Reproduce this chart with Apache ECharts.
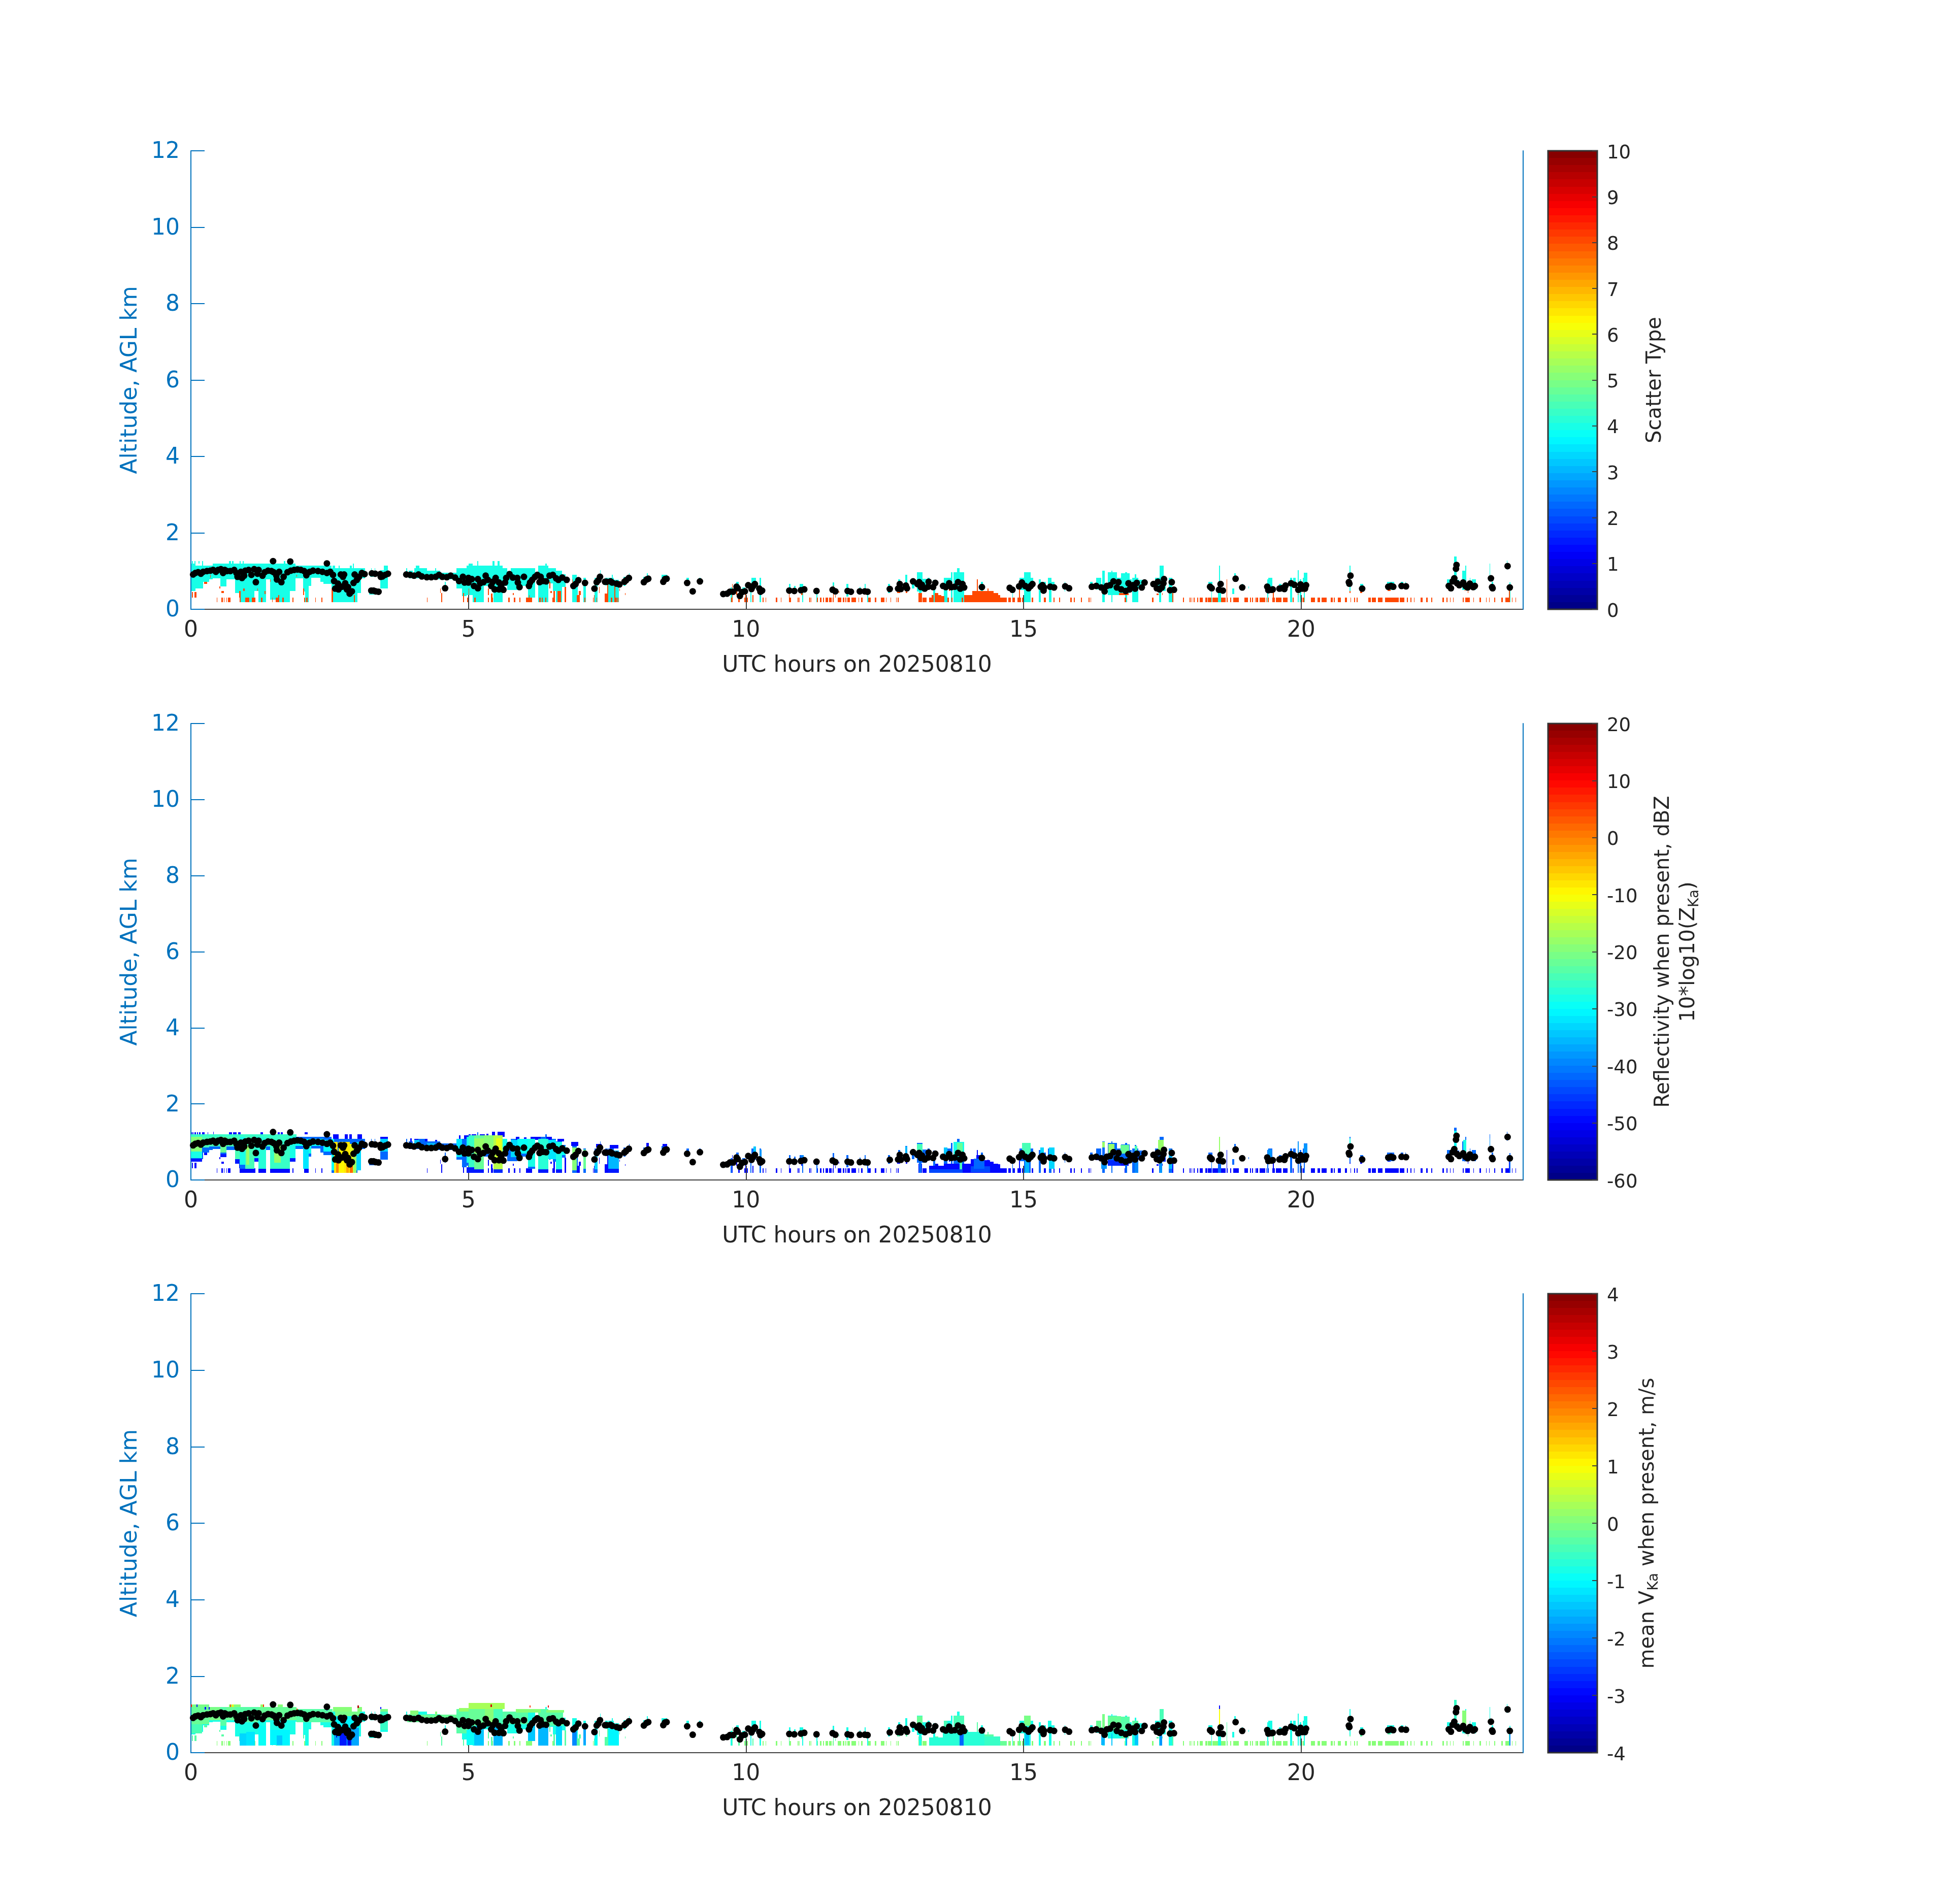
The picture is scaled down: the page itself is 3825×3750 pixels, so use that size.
<!DOCTYPE html>
<html>
<head>
<meta charset="utf-8">
<script src="https://cdn.jsdelivr.net/npm/echarts@6/dist/echarts.min.js"></script>
<style>
  html, body { margin: 0; background: #fff; }
  #chart { width: 3825px; height: 3750px; }
</style>
</head>
<body>
<div id="chart"></div>
<script>
const hourTicks = [0, 5, 10, 15, 20];
const altTicks = [0, 2, 4, 6, 8, 10, 12];

// radar returns: [hour start, hour end, km base, km top]
const cloudSpans = [
  [0,.08,.48,1.2],[.08,.22,.55,1.14],[.22,.33,.72,1.14],[.33,.39,.79,1.14],[.39,.53,.81,1.2],[.53,.64,.6,1.2],
  [.64,.8,.79,1.2],[.8,.88,.43,1.2],[.88,.98,.19,1.2],[.98,1.14,.19,1.2],[1.14,1.22,.48,1.2],[1.22,1.35,.19,1.2],
  [1.35,1.43,.79,1.2],[1.43,1.55,.25,1.2],[1.55,1.78,.19,1.2],[1.78,1.88,.48,1.2],[1.88,2.02,.81,1.14],
  [2.02,2.06,.46,1.14],[2.06,2.12,.19,1.14],[2.12,2.17,.61,1.14],[2.17,2.33,.83,1.14],[2.33,2.39,.72,1.14],
  [2.39,2.53,.66,1.14],[2.53,2.94,.19,1.08],[2.94,3,.19,1.08],[3,3.06,.43,1.08],[3.06,3.14,.81,1.08],
  [3.23,3.34,.85,.98],[3.25,3.26,.98,1.08],[3.31,3.32,.98,1.08],[3.21,3.37,.39,.54],[3.41,3.48,.54,1.02],[3.48,3.55,.54,1.14],
  [3.88,3.9,.95,1.08],[3.92,4,.81,1.01],[4.02,4.12,.81,1.08],[4.12,4.25,.81,1.08],[4.25,4.49,.79,1.01],
  [4.49,4.78,.79,.96],[4.57,4.59,.46,.72],[4.78,4.88,.54,1.08],[4.88,4.97,.34,1.08],[4.97,5.08,.37,1.14],
  [5.08,5.28,.19,1.14],[5.16,5.18,1.14,1.26],[5.28,5.45,.61,1.14],[5.45,5.62,.19,1.14],[5.62,5.7,.61,1.08],
  [5.7,5.76,.5,1],[5.76,5.88,.5,1.08],[5.88,6.07,.61,1.08],[6.07,6.2,.3,1.08],[6.26,6.44,.19,1.14],[6.38,6.41,1.14,1.2],
  [6.44,6.52,.68,1.08],[6.52,6.58,.48,1.08],[6.58,6.69,.19,1.01],[6.69,6.75,.59,.92],[6.87,6.95,.19,.9],
  [6.95,6.97,.37,.7],[7.07,7.12,.19,.83],[7.27,7.33,.19,.83],[7.37,7.38,.83,1.02],[7.46,7.51,.63,.83],
  [7.52,7.62,.19,.83],[7.62,7.71,.19,.77],[7.58,7.6,.83,.9],[7.79,7.83,.61,.85],[7.89,7.9,.81,.95],
  [8.15,8.26,.73,.85],[8.21,8.23,.85,.95],[8.48,8.58,.73,.9],[8.93,8.97,.63,.83],[9.03,9.05,.41,.52],[9.16,9.18,.68,.83],
  [9.72,9.75,.19,.57],[9.82,9.87,.48,.72],[9.93,9.99,.45,.57],[10.08,10.1,.19,.5],[10.1,10.18,.54,.83],
  [10.24,10.27,.19,.83],[10.77,10.8,.48,.66],[10.87,10.89,.5,.61],[10.97,11.03,.43,.66],[11.01,11.03,.19,.43],
  [11.24,11.3,.42,.53],[11.27,11.29,.19,.42],[11.56,11.59,.48,.71],[11.81,11.84,.33,.66],[12.05,12.06,.42,.59],
  [12.14,12.16,.38,.66],[12.18,12.2,.19,.38],
  [12.56,12.59,.43,.66],[12.74,12.78,.45,.79],[12.87,12.91,.48,.9],[12.99,13.03,.55,.79],[13.08,13.12,.46,.97],
  [13.12,13.16,.19,.97],[13.16,13.18,.46,.97],[13.18,13.25,.46,.8],[13.27,13.31,.52,.83],[13.37,13.41,.19,.77],
  [13.56,13.63,.19,.83],[13.63,13.69,.55,.83],[13.69,13.72,.19,.97],[13.74,13.93,.19,.97],[13.8,13.85,.97,1.08],
  [14.23,14.27,.3,.72],[14.75,14.76,.46,.62],[14.8,14.81,.19,.46],[14.93,15.01,.5,.83],[15.01,15.13,.19,.97],
  [15.13,15.17,.54,.83],[15.27,15.31,.19,.79],[15.31,15.4,.46,.72],[15.44,15.46,.52,.83],[15.46,15.5,.19,.83],
  [15.5,15.56,.52,.72],[15.74,15.75,.46,.72],[16.2,16.24,.54,.72],[16.31,16.4,.52,.83],[16.42,16.46,.19,1.01],
  [16.52,16.58,.37,.97],[16.58,16.6,.19,1.01],[16.6,16.68,.37,.97],[16.68,16.76,.37,.83],[16.76,16.83,.43,.94],
  [16.83,16.87,.19,.97],[16.87,16.91,.43,.94],[16.91,16.95,.54,.79],[16.96,17.07,.19,.83],[17,17.03,.83,.92],[17.07,17.17,.54,.77],
  [17.37,17.44,.48,.83],[17.44,17.48,.19,.83],[17.48,17.56,.48,.83],[17.45,17.52,.83,1.14],[17.62,17.68,.19,.83],
  [18.33,18.4,.5,.72],[18.38,18.39,.19,.5],[18.5,18.56,.19,.72],[18.52,18.54,.72,1.14],[18.76,18.8,.4,.55],[18.8,18.82,.8,.95],
  [18.93,18.95,.53,.66],[19.05,19.06,.55,.6],[19.39,19.41,.19,.79],[19.41,19.48,.43,.83],[19.6,19.65,.5,.66],
  [19.7,19.73,.5,.71],[19.8,19.84,.19,.83],[19.86,19.9,.59,.83],[19.94,19.96,.19,1.02],[19.98,20,.19,.79],
  [20.03,20.05,.52,.83],[20.05,20.07,.19,.96],[20.07,20.11,.52,.96],[20.82,20.87,.61,.77],[20.87,20.89,.46,1.14],
  [21.06,21.12,.59,.66],[21.55,21.68,.5,.72],[21.8,21.84,.54,.72],[21.88,21.89,.54,.72],[22.63,22.7,.54,.79],
  [22.76,22.8,.77,1.38],[22.8,22.85,.61,.77],[22.9,22.96,.5,1.01],[22.96,22.98,.5,1.14],[23.04,23.05,.66,.83],[23.08,23.15,.5,.79],
  [23.4,23.41,.72,1.2],[23.43,23.46,.5,.72],[23.71,23.72,1.03,1.27],[23.75,23.77,.19,.71]
];
const capSpeckle = [
  [.02,.04,1.2,1.26],[.06,.08,1.2,1.26],[.14,.16,1.2,1.26],[.2,.22,1.14,1.26],[.69,.72,1.2,1.26],[.74,.77,1.2,1.26],
  [.88,.9,1.2,1.26],[.93,.95,1.2,1.26],[1.67,1.7,1.2,1.26],[1.74,1.76,1.2,1.26],[2.55,2.6,1.08,1.14],[2.66,2.68,1.08,1.14],
  [2.86,2.9,1.08,1.14],[2.92,2.94,1.08,1.2],[4.05,4.12,1.08,1.14],[4.4,4.42,1.01,1.08],[5,5.08,1.14,1.2],
  [5.43,5.47,1.14,1.26],[5.52,5.56,1.14,1.26]
];
// thin returns in the lowest range gates, hour start and end
const lowBand = [
  [.47,.48],[.55,.58],[.59,.6],[.64,.65],[.67,.69],[.69,.71],[.88,.9],[.98,1.05],[1.1,1.16],[1.26,1.29],[1.46,1.47],
  [1.53,1.59],[1.65,1.67],[1.83,1.85],[2.04,2.06],[2.08,2.1],[2.24,2.25],[2.35,2.37],[4.25,4.26],[4.51,4.53],[4.9,4.92],
  [4.98,5],[5.1,5.13],[5.35,5.37],[5.41,5.44],[5.72,5.74],[5.82,5.84],[5.92,5.94],[6.04,6.15],[6.27,6.3],[6.32,6.34],
  [6.38,6.4],[6.51,6.56],[6.6,6.67],[6.73,6.75],[6.96,7.01],[7.09,7.11],[7.24,7.25],[7.31,7.32],[7.45,7.52],[7.56,7.59],
  [7.63,7.67],[7.68,7.7],[9.73,9.76],[9.86,9.89],[9.97,10.03],[10.3,10.32],[10.35,10.36],[10.54,10.56],[10.63,10.64],
  [10.77,10.81],[10.93,10.95],[10.96,10.97],[11.14,11.16],[11.17,11.18],[11.28,11.3],[11.33,11.36],[11.39,11.41],
  [11.43,11.48],[11.5,11.54],[11.56,11.58],[11.65,11.72],[11.74,11.77],[11.79,11.81],[11.83,11.87],[11.9,11.98],
  [12.03,12.04],[12.07,12.1],[12.2,12.25],[12.32,12.35],[12.43,12.49],[12.52,12.53],[12.6,12.61],[12.7,12.71],
  [12.73,12.75],[13.11,13.17],[13.18,13.25],[13.3,13.35],[13.4,13.57],[13.63,13.66],[13.7,13.72],[13.88,13.91],
  [13.93,14.7],[14.73,14.77],[14.8,14.84],[14.89,14.95],[14.97,14.99],[15.15,15.17],[15.37,15.4],[15.54,15.56],
  [15.64,15.66],[15.84,15.87],[15.91,15.92],[16.03,16.05],[16.17,16.19],[16.21,16.22],[16.82,16.85],[17.31,17.34],
  [17.87,17.89],[17.99,18.01],[18.03,18.04],[18.06,18.08],[18.13,18.15],[18.17,18.23],[18.27,18.31],[18.32,18.38],
  [18.4,18.5],[18.56,18.64],[18.66,18.68],[18.72,18.74],[18.78,18.88],[18.98,19.04],[19.08,19.1],[19.12,19.13],
  [19.17,19.18],[19.19,19.23],[19.25,19.35],[19.37,19.38],[19.4,19.42],[19.48,19.53],[19.55,19.65],[19.67,19.76],
  [19.85,19.87],[19.99,20.02],[20.03,20.06],[20.18,20.25],[20.3,20.34],[20.37,20.46],[20.53,20.57],[20.59,20.61],
  [20.66,20.72],[20.79,20.83],[20.89,20.9],[20.95,20.97],[21,21.02],[21.21,21.26],[21.27,21.35],[21.38,21.47],
  [21.51,21.76],[21.78,21.86],[21.91,21.92],[21.97,21.99],[22.03,22.04],[22.15,22.19],[22.25,22.28],[22.34,22.36],
  [22.55,22.57],[22.62,22.64],[22.68,22.69],[22.74,22.75],[22.91,22.93],[22.96,23.04],[23.1,23.11],[23.21,23.24],
  [23.33,23.34],[23.39,23.4],[23.48,23.5],[23.61,23.63],[23.68,23.76],[23.8,23.81],[23.86,23.87]
];
const bandBase = 0.19, bandTop = 0.31;
// taller drizzle streaks, and the hump after 13 UTC
const drizzleSpans = [
  [.02,.04,.31,.45],[.06,.1,.31,.45],[.24,.29,.66,.72],[.35,.36,.83,.9],[.51,.53,.55,.6],[.55,.59,.43,.48],[.87,.9,.31,.48],
  [.94,.97,.48,.55],[1.2,1.21,.48,.55],[1.33,1.34,.4,.48],[1.43,1.44,.72,.79],[1.57,1.59,.31,.37],[1.9,1.91,.85,.9],
  [2.02,2.04,.37,.54],[2.53,2.56,.19,.54],[2.94,2.95,.19,.37],[4.49,4.5,.43,.54],[4.51,4.53,.19,.42],[4.9,4.92,.19,.43],
  [5,5.01,.19,.54],[5.1,5.13,.19,.31],[5.35,5.37,.37,.54],[5.41,5.43,.19,.41],[5.8,5.82,.37,.43],[6.09,6.1,.31,.37],
  [6.46,6.48,.54,.72],[6.48,6.5,.43,.48],[6.53,6.56,.19,.48],[6.6,6.67,.19,.48],[6.73,6.76,.19,.59],[6.87,6.88,.66,.79],
  [6.95,7.01,.19,.37],[6.99,7.02,.37,.48],[7.26,7.27,.19,.37],[7.35,7.36,.43,.59],[7.45,7.52,.19,.41],[7.5,7.52,.41,.68],
  [7.63,7.65,.19,.66],[7.72,7.73,.48,.54],[7.82,7.83,.37,.42],[9.75,9.76,.19,.66],[9.82,9.84,.37,.48],[9.86,9.89,.19,.33],
  [9.99,10.01,.19,.41],[10.12,10.13,.19,.37],[10.77,10.78,.19,.43],[10.99,11.02,.37,.42],[11.57,11.58,.19,.63],
  [11.61,11.62,.31,.37],[11.67,11.68,.43,.48],[11.89,11.9,.37,.41],
  [12.72,12.78,.43,.48],[12.88,12.91,.43,.48],[13.11,13.17,.31,.43],[13.34,13.38,.19,.37],[13.66,13.67,.48,.54],
  [13.4,13.46,.31,.43],[13.46,13.52,.31,.37],[13.52,13.57,.31,.35],[13.93,14.08,.31,.37],[14.08,14.16,.31,.48],
  [14.16,14.18,.31,.79],[14.18,14.37,.31,.48],[14.35,14.37,.48,.54],[14.37,14.46,.31,.48],[14.46,14.54,.31,.43],
  [14.54,14.58,.31,.37],[14.92,14.94,.19,.61],[16.72,16.89,.37,.43],[17.4,17.43,.37,.41],[17.5,17.51,.37,.43],
  [17.68,17.7,.19,.48],[18.66,18.67,.19,.79],[19.41,19.47,.43,.46],[19.49,19.51,.31,.48],[19.94,19.95,.37,.41],
  [20.05,20.06,.43,.48],[20.87,20.89,.43,.48],[21.06,21.1,.43,.48],[21.56,21.61,.48,.53],[22.66,22.67,.48,.53],
  [22.95,22.96,.48,.54],[23,23.01,.43,.48],[23.74,23.76,.19,.54]
];
// reflectivity seen in the middle panel: [hour start, hour end, km base, km top, dBZ]
const reflHump = [
  [13.3,13.56,.19,.37,-49],[13.56,14.05,.19,.43,-49],[14.05,14.15,.19,.55,-49],[14.15,14.28,.19,.65,-49],
  [14.28,14.4,.19,.52,-49],[14.4,14.58,.19,.42,-49],[14.58,14.7,.19,.31,-50]
];
const reflFringe = [
  [0,.02,1.2,1.25],[.03,.05,1.2,1.25],[.06,.09,1.2,1.25],[.11,.13,1.2,1.25],[.15,.17,1.2,1.25],[.2,.25,1.2,1.25],
  [.3,.31,1.2,1.25],[.4,.41,1.2,1.27],[.69,.74,1.2,1.25],[.76,.82,1.2,1.25],[.85,.9,1.2,1.25],[1.25,1.3,1.2,1.25],
  [1.56,1.6,1.2,1.25],[1.62,1.66,1.2,1.25],[2.05,2.1,1.2,1.25],[2.4,2.46,1.2,1.25],
  [2.56,2.66,1.08,1.2],[2.77,2.83,1.08,1.2],[2.85,2.9,1.08,1.2],[3,3.08,1.08,1.2],[3.41,3.55,1.08,1.14],
  [3.95,3.98,1,1.1],[4.02,4.1,1.01,1.08],[4.22,4.26,1.01,1.08],[4.4,4.44,1.01,1.06],[4.83,4.86,1.08,1.17],[4.92,5,1.08,1.17],
  [5,5.04,1.14,1.2],[5.06,5.14,1.14,1.2],[5.2,5.3,1.14,1.2],[5.32,5.36,1.14,1.22],[5.42,5.48,1.14,1.27],[5.52,5.65,1.14,1.27],
  [5.85,5.92,1.05,1.14],[6,6.05,1.05,1.12],[6.12,6.3,1.05,1.14],[6.4,6.5,1.05,1.14],[6.6,6.72,1.01,1.08],[6.85,6.98,.9,1],
  [7.3,7.4,.85,.95],[7.55,7.7,.83,.92],[8.2,8.25,.85,.98],[8.5,8.58,.88,.95]
];
const reflDeepBase = [
  [.88,1.14,.19,.3,-49],[1.22,1.35,.19,.3,-49],[1.43,1.78,.19,.3,-49],[2.06,2.12,.19,.3,-49],[4.97,5.1,.19,.34,-48],
  [5.1,5.28,.19,.28,-48],[5.45,5.62,.19,.28,-47],[6.26,6.44,.19,.28,-48],[6.58,6.69,.19,.28,-48],[7.52,7.71,.19,.3,-48],
  [0,.2,.48,.56,-48],[.53,.64,.6,.68,-48],[.8,.88,.43,.55,-48],[1.14,1.22,.48,.58,-48],[1.78,1.88,.48,.58,-48],
  [16.31,16.4,.52,.6,-48],[16.52,16.76,.37,.52,-47],[16.76,16.91,.43,.55,-47],[17.07,17.17,.54,.62,-47],[17.37,17.56,.48,.58,-47]
];
const reflCells = [
  [0,.2,.75,1.14,-20],[0,.2,.58,.75,-28],[.2,.33,.85,1.14,-24],[.33,.53,.88,1.14,-25],[.53,.64,.72,1.14,-22],
  [.64,.8,.88,1.14,-25],[.8,.88,.55,1.14,-24],[.88,.98,.4,1.14,-28],[.98,1.14,.3,1.14,-25],[1,1.05,.4,.9,-18],
  [1.14,1.22,.58,1.14,-27],[1.22,1.35,.3,1.14,-27],[1.35,1.43,.88,1.14,-26],[1.43,1.78,.3,1.14,-26],[1.5,1.62,.45,1,-18],
  [1.78,1.88,.58,1.14,-28],[0,1.9,1.14,1.2,-26],[1.88,2.02,.9,1.08,-30],[2.02,2.12,.3,1.08,-32],[2.12,2.17,.7,1.08,-28],
  [2.17,2.39,.9,1.08,-29],[2.39,2.53,.75,1.05,-30],
  [2.53,2.58,.25,1.08,-30],[2.58,2.64,.19,1,-8],[2.62,2.66,.19,.6,-1],[2.66,2.76,.19,1,-10],[2.76,2.86,.19,1,-8],
  [2.8,2.84,.19,.5,-3],[2.86,2.93,.19,.95,-12],[2.86,2.92,.19,.45,2],[2.93,2.98,.19,.9,-18],[2.98,3.06,.25,1,-33],
  [3.41,3.55,.75,1.08,-33],[4.02,4.12,.9,1.05,-35],[4.25,4.4,.88,.97,-36],[4.78,4.88,.6,1.08,-32],[4.97,5.08,.45,1.14,-28],
  [5,5.1,.34,1.17,-26],[5.1,5.28,.28,1.17,-22],[5.1,5.28,.7,1.1,-18],[5.28,5.45,.7,1.17,-20],[5.45,5.62,.28,1.17,-16],
  [5.5,5.6,.6,1.1,-12],[5.62,5.7,.7,1.08,-28],[5.76,5.88,.6,1.05,-33],[5.88,6.07,.7,1.08,-30],[6.07,6.2,.35,1.08,-28],
  [6.26,6.44,.28,1.08,-27],[6.44,6.58,.55,1.05,-32],[6.58,6.69,.28,1,-28],[6.69,6.75,.65,.9,-30],[6.87,6.95,.25,.85,-20],
  [7.07,7.12,.3,.8,-22],[7.27,7.33,.28,.78,-33],[7.52,7.71,.3,.78,-36],
  [10.13,10.18,.72,.88,-35],[10.24,10.28,.55,.8,-38],[10.99,11.04,.45,.65,-40],[12.87,12.91,.7,.88,-36],
  [13.08,13.18,.6,.95,-25],[13.56,13.63,.6,.85,-34],[13.74,13.93,.55,1,-28],[13.8,13.9,.75,.98,-22],[13.85,13.89,.19,.7,-25],
  [13.3,13.9,.19,.28,-44],[14.05,14.4,.2,.36,-44],[14.1,14.3,.3,.56,-42],[14.97,15.13,.68,.97,-24],[15.03,15.1,.19,.68,-36],
  [15.3,15.37,.6,.85,-33],[15.46,15.56,.3,.85,-33],[16.42,16.46,.85,1,-18],[16.53,16.64,.7,.95,-18],[16.75,16.9,.7,.92,-22],
  [17,17.05,.7,.9,-25],[16.4,16.5,.3,.6,-38],[17,17.07,.19,.5,-40],[17.42,17.52,.7,1.05,-18],[17.45,17.5,.19,.5,-38],
  [17.62,17.68,.3,.8,-36],[18.52,18.54,.72,1.14,-18],[19.4,19.47,.5,.8,-38],[19.94,19.96,.65,1,-38],[20.05,20.11,.6,.95,-38],
  [20.87,20.89,.9,1.1,-28],[22.76,22.8,.8,1.3,-30],[22.92,22.98,.55,1.05,-28],[23.4,23.41,.8,1.1,-38]
];
// mean Doppler velocity seen in the bottom panel: [hour start, hour end, km base, km top, m/s]
const velHump = [
  [13.3,13.55,.19,.4,-.7],[13.55,14,.19,.6,-.7],[14,14.3,.19,.55,-.65],[14.3,14.58,.19,.42,-.6],[14.58,14.7,.19,.31,-.2]
];
const velFringe = [
  [0,.33,1.2,1.26,-.1],[.69,.9,1.2,1.26,0],[1.25,1.3,1.2,1.26,.2],[1.56,1.66,1.2,1.26,.1],[2.56,2.9,1.08,1.2,.1],
  [3,3.08,1.08,1.2,.1],[3.41,3.55,1.08,1.14,-.1],[3.95,4.1,1,1.1,.1],[4.4,4.44,1,1.08,.1],[4.83,5,1.08,1.17,.2],[5,5.65,1.14,1.3,.3],
  [5.85,6.3,1.05,1.14,.1],[6.4,6.72,1.05,1.12,.1]
];
const velSpeckle = [
  [0,.02,1.2,1.26,2.8],[.1,.12,1.2,1.26,-3],[.25,.27,1.13,1.2,-3],[.32,.34,1.13,1.2,-3],[.7,.72,1.2,1.26,2.3],[.74,.77,1.2,1.26,1],
  [1.3,1.32,1.2,1.26,2.5],[1.9,1.92,1.1,1.15,2.2],[2.44,2.46,1.1,1.15,-3],[3,3.03,1.17,1.23,3.5],[3.41,3.43,1.14,1.2,-3],
  [5.4,5.42,1.2,1.26,3.3],[6.1,6.12,1.18,1.24,2.6],[6.43,6.45,1.18,1.24,3.2],[18.52,18.54,1.14,1.24,-3],[2.62,2.63,.4,.5,-3.4]
];
const velCells = [
  [0,.33,.75,1.2,-.2],[0,.2,.5,.75,-.5],[.33,.53,.85,1.2,-.1],[.53,.64,.7,1.2,-.3],[.64,.8,.85,1.2,-.2],[.8,1.22,.8,1.2,-.3],
  [.88,1,.19,.5,-1.3],[1,1.15,.19,.55,-1.2],[1.22,1.35,.19,.7,-.9],[1.43,1.78,.2,.6,-1.1],[1.55,1.65,.2,.45,-1.5],
  [1.22,1.9,.85,1.2,-.25],[1.9,2.55,.8,1.14,-.3],[2.58,3.03,.19,.65,-1.7],[2.68,2.8,.19,.6,-2.8],[2.8,2.9,.19,.5,-2.2],
  [2.83,2.88,.19,.4,-3.2],[2.55,3.05,.65,.95,-1.1],[2.6,3.05,.95,1.08,-.1],[3.41,3.55,.6,1.14,-.6],[3.9,4.8,.8,1,-.2],
  [4.78,5,.5,1.14,-.3],[4.97,5.1,.2,.6,-1],[5,5.3,.7,1.14,-.15],[5.1,5.28,.19,.7,-1.4],[5.3,5.45,.7,1.14,0],
  [5.45,5.62,.19,.75,-1.6],[5.45,5.62,.75,1.14,-.4],[5.62,6.07,.75,1.08,-.3],[6.07,6.2,.3,.75,-1.4],[6.26,6.44,.19,.75,-1.6],
  [6.26,6.44,.75,1.14,-.3],[6.44,6.7,.7,1.05,-.3],[6.58,6.69,.2,.7,-1.3],[6.87,6.95,.19,.7,-1.9],[7.07,7.12,.2,.75,-1.7],
  [7.27,7.33,.2,.8,-.9],[7.52,7.71,.2,.7,-1.1],
  [13.08,13.18,.7,.95,-.2],[13.56,13.63,.55,.83,-.5],[13.74,13.93,.6,.97,-.4],[13.85,13.92,.19,.7,-2.2],[15.03,15.1,.2,.65,-1.5],
  [15.01,15.13,.7,.97,-.1],[16.31,16.4,.6,.83,-.2],[16.42,16.46,.65,1.01,-.1],[16.52,16.76,.6,.95,-.2],[16.76,16.91,.6,.94,-.3],[16.96,17.07,.6,.83,-.3],
  [16.4,16.46,.2,.55,-1.6],[16.58,16.6,.19,.5,-1.5],[16.85,16.87,.19,.5,-1.7],
  [17,17.07,.2,.6,-1.4],[17.45,17.5,.19,.6,-1.8],[17.45,17.52,.75,1.14,-.5],[18.52,18.54,.72,1.14,.9],
  [22.9,22.98,.7,1.1,.1],[22.76,22.8,.8,1.38,-.6],[23.75,23.77,.19,.55,-2]
];
// ceilometer cloud base, black dots: [hour, km]
const ceilPoints = [
  [.04,.91],[.08,.95],[.13,.97],[.18,.93],[.22,.98],[.29,1],[.35,1.01],[.4,1.03],[.45,.98],[.49,1.03],[.54,1.05],[.58,.95],
  [.61,1.03],[.65,1],[.71,1],[.78,1.03],[.82,.95],[.84,.85],[.9,.98],[.92,.82],[.96,.88],[.98,1.01],[1.04,1.03],[1.09,.9],
  [1.14,1.05],[1.17,.71],[1.2,.93],[1.22,1.03],[1.29,.88],[1.33,.97],[1.39,1.01],[1.45,1],[1.49,.97],[1.54,.88],[1.55,.78],
  [1.59,.98],[1.63,.71],[1.67,.85],[1.74,.97],[1.8,1.01],[1.86,1.03],[1.92,1.04],[1.98,1.03],[2.04,1],[2.08,.89],[2.14,.98],
  [2.2,1.01],[2.29,1],[2.37,.98],[2.45,.95],[2.51,.98],[2.56,.9],[1.48,1.26],[1.79,1.25],[2.45,1.2],
  [2.58,.74],[2.6,.54],[2.65,.67],[2.66,.52],[2.7,.91],[2.72,.59],[2.76,.91],[2.74,.85],[2.78,.68],[2.81,.52],[2.83,.58],
  [2.86,.41],[2.9,.47],[2.93,.69],[2.95,.91],[2.99,.77],[3.03,.85],[3.08,.95],[3.13,.92],[3.25,.49],[3.29,.49],[3.33,.47],
  [3.38,.46],[3.26,.94],[3.32,.93],[3.42,.85],[3.45,.86],[3.5,.9],[3.55,.93],[3.41,.92],
  [3.88,.91],[3.95,.9],[4.02,.88],[4.1,.91],[4.16,.86],[4.25,.84],[4.33,.84],[4.41,.85],[4.47,.9],[4.53,.85],[4.61,.84],
  [4.68,.88],[4.76,.83],[4.83,.74],[4.9,.85],[4.93,.7],[5,.7],[5,.82],[5.06,.79],[5.1,.61],[5.17,.79],[5.17,.55],[5.21,.68],
  [5.27,.71],[5.31,.88],[5.35,.77],[5.41,.61],[5.44,.72],[5.49,.82],[5.47,.52],[5.55,.7],[5.55,.52],[5.59,.59],[5.63,.51],
  [5.66,.7],[5.68,.82],[5.74,.92],[5.8,.83],[5.88,.82],[5.89,.7],[5.92,.58],[6,.85],[4.58,.55],
  [6.09,.61],[6.11,.7],[6.15,.77],[6.2,.85],[6.24,.9],[6.3,.85],[6.28,.71],[6.34,.74],[6.4,.73],[6.46,.88],[6.52,.9],[6.58,.81],
  [6.62,.77],[6.69,.83],[6.77,.77],[6.89,.61],[6.93,.66],[6.98,.76],[7.1,.69],[7.27,.54],[7.31,.71],[7.34,.76],[7.37,.85],
  [7.46,.72],[7.49,.72],[7.56,.73],[7.59,.7],[7.67,.67],[7.72,.65],[7.81,.72],[7.84,.76],[7.89,.82],[8.16,.71],[8.21,.78],
  [8.24,.8],[8.51,.72],[8.54,.79],[8.57,.8],[8.94,.69],[9.04,.47],[9.17,.73],[9.59,.4],[9.66,.41],[9.71,.46],[9.77,.46],
  [9.83,.59],[9.85,.55],[9.89,.35],[9.93,.45],[9.98,.47],[10.04,.63],[10.1,.53],[10.13,.61],[10.16,.66],[10.24,.54],[10.29,.49],
  [10.26,.46],[10.78,.49],[10.87,.48],[10.99,.5],[11.05,.52],[11.27,.48],[11.56,.51],[11.61,.47],[11.83,.48],[11.89,.46],
  [12.05,.47],[12.14,.47],[12.19,.46],
  [12.59,.53],[12.74,.54],[12.77,.66],[12.79,.53],[12.88,.62],[12.9,.55],[13.01,.73],[13.09,.66],[13.12,.71],[13.15,.58],
  [13.17,.64],[13.22,.54],[13.28,.59],[13.29,.72],[13.37,.58],[13.41,.69],[13.55,.61],[13.6,.58],[13.66,.68],[13.7,.58],
  [13.76,.59],[13.82,.71],[13.86,.54],[13.9,.66],[13.93,.57],[14.25,.58],[14.75,.56],[14.8,.51],[14.92,.6],[14.97,.7],[15.03,.61],
  [15.09,.55],[15.13,.61],[15.16,.66],[15.31,.59],[15.34,.63],[15.36,.49],[15.37,.57],[15.48,.59],[15.55,.57],[15.75,.6],[15.82,.55],
  [16.23,.59],[16.31,.61],[16.4,.57],[16.46,.47],[16.5,.61],[16.56,.63],[16.62,.73],[16.68,.57],[16.71,.71],[16.76,.52],[16.84,.48],
  [16.89,.68],[16.91,.52],[16.97,.63],[17.01,.54],[17.04,.69],[17.13,.57],[17.18,.7],[17.34,.66],[17.42,.72],[17.4,.55],[17.45,.52],
  [17.49,.57],[17.52,.68],[17.53,.79],[17.67,.71],[17.64,.5],[17.71,.51],[18.36,.59],[18.39,.55],[18.52,.51],[18.55,.66],[18.59,.49],[18.82,.8],
  [18.94,.57],[19.39,.59],[19.41,.5],[19.47,.51],[19.49,.52],[19.61,.54],[19.65,.55],[19.7,.53],[19.72,.62],[19.82,.68],[19.88,.64],
  [19.95,.51],[19.99,.65],[20.02,.54],[20.07,.54],[20.09,.63],[20.86,.71],[20.87,.67],[20.89,.88],[21.1,.54],[21.57,.59],[21.62,.61],
  [21.66,.59],[21.81,.61],[21.89,.6],[22.66,.61],[22.7,.55],[22.73,.73],[22.76,.81],[22.79,1.06],[22.8,1.16],[22.81,.68],[22.85,.63],
  [22.92,.7],[22.96,.61],[23,.57],[23.04,.67],[23.1,.58],[23.13,.61],[23.42,.81],[23.44,.58],[23.45,.55],[23.72,1.13],[23.76,.57]
];

const matlabBlue = '#0072BD', darkText = '#262626', darkLine = '#404040';
const fontName = 'DejaVu Sans';
const jetLevels = 64;

function jet(v, lo, hi) {
  const idx = Math.min(jetLevels - 1, Math.max(0, Math.floor((v - lo) / (hi - lo) * jetLevels)));
  const f = (idx + 0.5) / jetLevels;
  const c = x => Math.round(255 * Math.max(0, Math.min(1, x)));
  return 'rgb(' + c(Math.min(4 * f - 1.5, 4.5 - 4 * f)) + ',' + c(Math.min(4 * f - 0.5, 3.5 - 4 * f)) + ',' + c(Math.min(4 * f + 0.5, 2.5 - 4 * f)) + ')';
}

function cellSeries(xIdx, yIdx, rows, lo, hi, z) {
  return {
    type: 'custom', xAxisIndex: xIdx, yAxisIndex: yIdx, z: z, clip: true, silent: true,
    encode: { x: [0, 1], y: [2, 3] },
    data: rows,
    renderItem: (params, api) => {
      const a = api.coord([api.value(0), api.value(3)]);
      const b = api.coord([api.value(1), api.value(2)]);
      const x = Math.round(a[0]), y = Math.round(a[1]);
      return {
        type: 'rect',
        shape: { x: x, y: y, width: Math.max(1, Math.round(b[0]) - x), height: Math.round(b[1]) - y },
        style: { fill: jet(api.value(4), lo, hi) }
      };
    }
  };
}

const withValue = (spans, v) => spans.map(s => [s[0], s[1], s[2], s[3], v]);
const bandRows = v => lowBand.map(b => [b[0], b[1], bandBase, bandTop, v]);

const panels = [
  {
    top: 297, height: 903, lo: 0, hi: 10, step: 1, nameGap: 90,
    name: '{n|Scatter Type}',
    layers: [withValue(cloudSpans, 4), withValue(capSpeckle, 4), withValue(drizzleSpans, 8), bandRows(8)]
  },
  {
    top: 1425, height: 899, lo: -60, hi: 20, step: 10, nameGap: 106,
    name: '{n|Reflectivity when present, dBZ}\n{n|10*log10(Z}{s|Ka}{n|)}',
    layers: [bandRows(-50), withValue(drizzleSpans, -50), withValue(cloudSpans, -42), withValue(reflFringe, -50), reflHump, reflDeepBase, reflCells]
  },
  {
    top: 2548, height: 904, lo: -4, hi: 4, step: 1, nameGap: 76,
    name: '{n|mean V}{s|Ka}{n| when present, m/s}',
    layers: [bandRows(0), withValue(drizzleSpans, -.3), withValue(cloudSpans, -.8), velHump, velCells, velFringe, velSpeckle]
  }
];

const option = { animation: false, backgroundColor: '#fff', grid: [], xAxis: [], yAxis: [], series: [] };

panels.forEach(p => {
  const plot = option.grid.length;
  option.grid.push({ left: 376, top: p.top, width: 2624, height: p.height });
  option.grid.push({ left: 3049, top: p.top, width: 97, height: p.height });

  option.xAxis.push({
    type: 'value', gridIndex: plot, min: 0, max: 24, z: 5, splitLine: { show: false },
    axisLine: { onZero: false, lineStyle: { color: darkLine, width: 2 } },
    axisTick: { inside: true, length: 28, lineStyle: { color: darkLine, width: 2 }, customValues: hourTicks },
    axisLabel: { color: darkText, fontSize: 44, fontFamily: fontName, margin: 21, customValues: hourTicks },
    name: 'UTC hours on 20250810', nameLocation: 'middle', nameGap: 90,
    nameTextStyle: { color: darkText, fontSize: 44, fontFamily: fontName }
  });
  option.xAxis.push({
    type: 'value', gridIndex: plot + 1, min: 0, max: 1, show: false, axisLine: { onZero: false }
  });

  const yPlot = option.yAxis.length;
  option.yAxis.push({
    type: 'value', gridIndex: plot, min: 0, max: 12, z: 6, splitLine: { show: false },
    axisLine: { onZero: false, lineStyle: { color: matlabBlue, width: 2 } },
    axisTick: { inside: true, length: 27, lineStyle: { color: matlabBlue, width: 2 }, customValues: altTicks },
    axisLabel: {
      margin: 22, customValues: altTicks, formatter: '{v|{value}}',
      rich: { v: { color: matlabBlue, fontSize: 44, fontFamily: fontName, padding: [6, 0, 0, 0] } }
    },
    name: 'Altitude, AGL km', nameLocation: 'middle', nameGap: 96,
    nameTextStyle: { color: matlabBlue, fontSize: 44, fontFamily: fontName }
  });
  // the blue line closing the plot on the right
  option.yAxis.push({
    type: 'value', gridIndex: plot, position: 'right', min: 0, max: 12, z: 6, splitLine: { show: false },
    axisLine: { show: true, onZero: false, lineStyle: { color: matlabBlue, width: 2 } },
    axisTick: { show: false }, axisLabel: { show: false }
  });
  const yBar = option.yAxis.length;
  option.yAxis.push({
    type: 'value', gridIndex: plot + 1, position: 'right', min: p.lo, max: p.hi, interval: p.step, z: 6,
    splitLine: { show: false },
    axisLine: { show: false, onZero: false },
    axisTick: { inside: true, length: 10, lineStyle: { color: darkLine, width: 2 } },
    axisLabel: {
      margin: 19, formatter: '{v|{value}}',
      rich: { v: { color: darkText, fontSize: 37, fontFamily: fontName, padding: [10, 0, 0, 0] } }
    },
    name: p.name, nameLocation: 'middle', nameGap: p.nameGap, nameRotate: 90,
    nameTextStyle: {
      rich: {
        n: { color: darkText, fontSize: 40, fontFamily: fontName, lineHeight: 50 },
        s: { color: darkText, fontSize: 28, fontFamily: fontName, lineHeight: 50, verticalAlign: 'bottom' }
      }
    }
  });

  const xIdx = option.xAxis.length - 2, xBar = option.xAxis.length - 1;
  p.layers.forEach((rows, i) => option.series.push(cellSeries(xIdx, yPlot, rows, p.lo, p.hi, 2 + i)));
  option.series.push({
    type: 'scatter', xAxisIndex: xIdx, yAxisIndex: yPlot, z: 20, silent: true,
    symbol: 'circle', symbolSize: 13, itemStyle: { color: '#000', opacity: 1 }, data: ceilPoints
  });

  const rowH = (p.hi - p.lo) / jetLevels, barRows = [];
  for (let i = 0; i < jetLevels; i++) {
    const v0 = p.lo + i * rowH;
    barRows.push([0, 1, v0, v0 + rowH, v0 + rowH / 2]);
  }
  option.series.push(cellSeries(xBar, yBar, barRows, p.lo, p.hi, 2));
  // colorbar frame
  option.series.push({
    type: 'custom', xAxisIndex: xBar, yAxisIndex: yBar, z: 4, silent: true, clip: false,
    encode: { x: [0, 1], y: [2, 3] },
    data: [[0, 1, p.lo, p.hi]],
    renderItem: (params, api) => {
      const a = api.coord([api.value(0), api.value(3)]);
      const b = api.coord([api.value(1), api.value(2)]);
      return {
        type: 'rect',
        shape: { x: a[0], y: a[1], width: b[0] - a[0], height: b[1] - a[1] },
        style: { fill: 'none', stroke: '#333', lineWidth: 3 }
      };
    }
  });
});

const chart = echarts.init(document.getElementById('chart'));
chart.setOption(option);
window.addEventListener('resize', () => chart.resize());
</script>
</body>
</html>
